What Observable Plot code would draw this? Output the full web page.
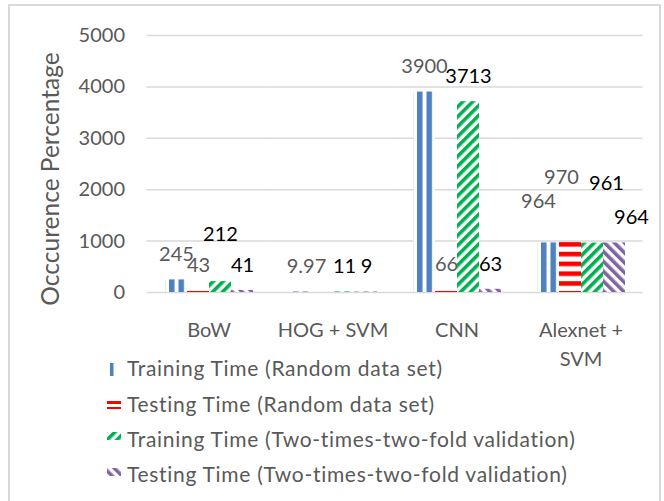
<!DOCTYPE html>
<html><head><meta charset="utf-8">
<script src="https://cdn.jsdelivr.net/npm/d3@7"></script>
<script src="https://cdn.jsdelivr.net/npm/@observablehq/plot@0.6"></script>
<style>
html,body{margin:0;padding:0;background:#fff;}
#root{position:relative;width:664px;height:501px;overflow:hidden;font-family:Lato,sans-serif;background:#fff;}
#chart{position:absolute;left:0;top:0;}
#overlay{position:absolute;left:0;top:0;pointer-events:none;}
#frame{position:absolute;left:8px;top:4px;width:653px;height:520px;border:2px solid #D9D9D9;box-sizing:border-box;pointer-events:none;}
</style></head><body>
<div id="root">
<svg id="defs" width="0" height="0" style="position:absolute"><defs></defs></svg>
<div id="chart"></div>
<svg id="overlay" width="664" height="501"></svg>
<div id="frame"></div>
</div>
<script>
// ---- data ----
const categories = ["BoW", "HOG + SVM", "CNN", "Alexnet + SVM"];
const categoryLines = ["BoW", "HOG + SVM", "CNN", "Alexnet +\nSVM"];
const seriesNames = [
  "Training Time (Random data set)",
  "Testing Time (Random data set)",
  "Training Time (Two-times-two-fold validation)",
  "Testing Time (Two-times-two-fold validation)"
];
const trainRandom  = [245, 9.97, 3900, 964];
const testRandom   = [43, null, 66, 970];
const trainTwoFold = [212, 11, 3713, 961];
const testTwoFold  = [41, 9, 63, 964];
const yTicks = [0, 1000, 2000, 3000, 4000, 5000];
const yTitle = "Occcurence Percentage";

// ---- styles ----
const seriesValues = [trainRandom, testRandom, trainTwoFold, testTwoFold];
const seriesColors = ["#4F81BD", "#FF0000", "#00B050", "#8064A2"];
const patternIds = ["pBlue", "pRed", "pGreen", "pPurple"];
const labelColors = ["#595959", "#595959", "#000000", "#000000"];
const labelNudges = { // pixel nudges of data labels (dy default -25)
  "0-2": {dy: -47},
  "1-0": {dx: 6},
  "3-0": {dx: -10, dy: -41},
  "3-1": {dx: -9, dy: -65},
  "3-2": {dx: 14, dy: -60},
  "3-3": {dx: 17}
};

// patterns
function addPatterns(defs) {
  let p = defs.append("pattern").attr("id", "pBlue").attr("patternUnits", "userSpaceOnUse")
    .attr("width", 9.5).attr("height", 10);
  p.append("rect").attr("width", 9.5).attr("height", 10).attr("fill", "#fff");
  p.append("rect").attr("width", 5.5).attr("height", 10).attr("fill", seriesColors[0]);
  p = defs.append("pattern").attr("id", "pRed").attr("patternUnits", "userSpaceOnUse")
    .attr("y", 242).attr("width", 10).attr("height", 9.8);
  p.append("rect").attr("width", 10).attr("height", 9.8).attr("fill", "#fff");
  p.append("rect").attr("width", 10).attr("height", 4.6).attr("fill", seriesColors[1]);
  p = defs.append("pattern").attr("id", "pGreen").attr("patternUnits", "userSpaceOnUse")
    .attr("width", 7).attr("height", 7).attr("patternTransform", "rotate(45)");
  p.append("rect").attr("width", 7).attr("height", 7).attr("fill", "#fff");
  p.append("rect").attr("width", 3.6).attr("height", 7).attr("fill", seriesColors[2]);
  p = defs.append("pattern").attr("id", "pPurple").attr("patternUnits", "userSpaceOnUse")
    .attr("width", 7).attr("height", 7).attr("patternTransform", "rotate(-45)");
  p.append("rect").attr("width", 7).attr("height", 7).attr("fill", "#fff");
  p.append("rect").attr("width", 3.6).attr("height", 7).attr("fill", seriesColors[3]);
}
addPatterns(d3.select("#defs defs"));

const rows = [];
categories.forEach((c, i) => seriesNames.forEach((s, j) => {
  rows.push({category: c, series: s, i, j, value: seriesValues[j][i]});
}));
const shown = rows.filter(d => d.value != null);

const labelMarks = shown.map(d => {
  const n = labelNudges[`${d.i}-${d.j}`] || {};
  return Plot.text([d], {
    fx: "category", x: "series", y: "value",
    text: r => String(r.value),
    dx: n.dx ?? 0, dy: n.dy ?? -25,
    fill: labelColors[d.j]
  });
});

const chart = Plot.plot({
  width: 664, height: 362,
  marginLeft: 147, marginRight: 21, marginTop: 35, marginBottom: 70,
  style: {fontFamily: "Lato, sans-serif", fontSize: "20px", color: "#595959", background: "transparent", overflow: "visible"},
  fx: {domain: categories, paddingInner: 0.282, paddingOuter: 0.141, axis: null, label: null},
  x: {domain: seriesNames, padding: 0, axis: null},
  y: {domain: [0, 5000], axis: null},
  color: {domain: seriesNames, range: patternIds.map(id => `url(#${id})`)},
  marks: [
    Plot.ruleY(yTicks, {stroke: "#D9D9D9", strokeWidth: 1.5, insetLeft: -17.5, insetRight: -17.5}),
    Plot.axisY({ticks: yTicks, tickSize: 0, tickPadding: 39.5, tickFormat: d => String(d), label: null, fill: "#595959"}),
    Plot.barY(shown, {fx: "category", x: "series", y: "value", fill: "series"}),
    ...labelMarks,
    Plot.text(categories, {fx: d => d, text: (d, i) => categoryLines[i], frameAnchor: "bottom",
      lineAnchor: "top", dy: 24, lineHeight: 1.45, fill: "#595959"})
  ]
});
document.getElementById("chart").appendChild(chart);

// ---- overlay: y title and legend ----
const ov = d3.select("#overlay");
ov.append("text")
  .attr("transform", "translate(59,179) rotate(-90)")
  .attr("text-anchor", "middle")
  .attr("font-family", "Lato, sans-serif").attr("font-size", 24.5)
  .attr("fill", "#595959")
  .text(yTitle);

const legendBaselines = [375.7, 411.7, 447.3, 482.3];
const swatches = [
  {x: 110, y: 363, w: 3.5, h: 13, fill: seriesColors[0]},
  {x: 107, y: 401, w: 14, h: 8, fill: "url(#pRedL)"},
  {x: 107, y: 432, w: 14, h: 8, fill: "url(#pGreen)"},
  {x: 107, y: 468, w: 14, h: 8, fill: "url(#pPurple)"}
];
const odefs = ov.append("defs");
let pl = odefs.append("pattern").attr("id", "pRedL").attr("patternUnits", "userSpaceOnUse")
  .attr("y", 401).attr("width", 10).attr("height", 6);
pl.append("rect").attr("width", 10).attr("height", 6).attr("fill", "#fff");
pl.append("rect").attr("width", 10).attr("height", 3).attr("fill", seriesColors[1]);

seriesNames.forEach((s, k) => {
  const sw = swatches[k];
  ov.append("rect").attr("x", sw.x).attr("y", sw.y).attr("width", sw.w).attr("height", sw.h).attr("fill", sw.fill);
  ov.append("text").attr("x", 127).attr("y", legendBaselines[k])
    .attr("font-family", "Lato, sans-serif").attr("font-size", 21)
    .attr("letter-spacing", 0.7)
    .attr("fill", "#595959").text(s);
});
</script>
</body></html>
